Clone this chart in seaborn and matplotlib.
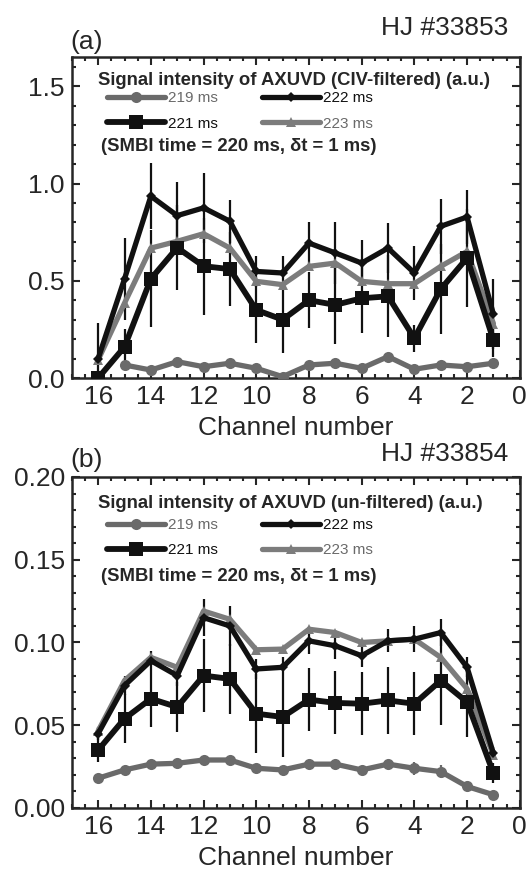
import numpy as np
import pandas as pd
import seaborn as sns
import matplotlib.pyplot as plt
from matplotlib.ticker import MultipleLocator, FormatStrFormatter

sns.set_style("ticks")
plt.rcParams['font.family'] = ['Liberation Sans', 'DejaVu Sans']

channels = np.arange(16, 0, -1)
times = ["219 ms", "221 ms", "222 ms", "223 ms"]

# (a) CIV-filtered, shot 33853
a_219 = [np.nan, 0.067, 0.041, 0.084, 0.058, 0.076, 0.050, 0.007, 0.067, 0.076, 0.050, 0.110, 0.045, 0.067, 0.058, 0.076]
a_221 = [0.00, 0.16, 0.51, 0.67, 0.575, 0.56, 0.35, 0.30, 0.40, 0.376, 0.41, 0.42, 0.205, 0.457, 0.617, 0.196]
a_222 = [0.10, 0.51, 0.935, 0.835, 0.875, 0.806, 0.548, 0.54, 0.694, 0.643, 0.591, 0.668, 0.54, 0.78, 0.828, 0.328]
a_223 = [0.093, 0.385, 0.668, 0.703, 0.742, 0.668, 0.497, 0.48, 0.574, 0.591, 0.497, 0.485, 0.485, 0.574, 0.651, 0.28]
a_err219 = [0.0] * 16
a_err221 = [0.0, 0.09, 0.25, 0.22, 0.25, 0.19, 0.17, 0.17, 0.144, 0.20, 0.18, 0.21, 0.07, 0.23, 0.25, 0.09]
a_err222 = [0.185, 0.21, 0.17, 0.175, 0.18, 0.11, 0.08, 0.085, 0.11, 0.16, 0.12, 0.13, 0.14, 0.14, 0.14, 0.18]

# (b) un-filtered, shot 33854
b_219 = [0.018, 0.023, 0.0265, 0.027, 0.029, 0.029, 0.024, 0.023, 0.0265, 0.0265, 0.023, 0.0265, 0.024, 0.022, 0.013, 0.008]
b_221 = [0.035, 0.054, 0.066, 0.061, 0.080, 0.078, 0.057, 0.055, 0.0655, 0.0635, 0.063, 0.065, 0.063, 0.077, 0.064, 0.021]
b_222 = [0.045, 0.074, 0.089, 0.080, 0.115, 0.110, 0.084, 0.085, 0.101, 0.098, 0.092, 0.101, 0.102, 0.106, 0.085, 0.033]
b_223 = [0.0466, 0.077, 0.091, 0.085, 0.119, 0.114, 0.0956, 0.096, 0.108, 0.106, 0.100, 0.101, 0.102, 0.091, 0.072, 0.032]
b_err219 = [0.002, 0.002, 0.002, 0.002, 0.002, 0.002, 0.002, 0.002, 0.002, 0.002, 0.002, 0.002, 0.004, 0.004, 0.003, 0.002]
b_err221 = [0.007, 0.015, 0.017, 0.015, 0.022, 0.021, 0.024, 0.024, 0.019, 0.019, 0.019, 0.020, 0.019, 0.027, 0.021, 0.006]
b_err222 = [0.004, 0.006, 0.006, 0.006, 0.011, 0.012, 0.006, 0.006, 0.008, 0.008, 0.007, 0.007, 0.008, 0.008, 0.006, 0.004]

grey1 = "#6a6a6a"
grey2 = "#7c7c7c"
black = "#111111"
styles = {
    "219 ms": dict(color=grey1, marker="o", markersize=8, lw=3.8),
    "221 ms": dict(color=black, marker="s", markersize=9.5, lw=4.2),
    "222 ms": dict(color=black, marker="D", markersize=5.5, lw=3.8),
    "223 ms": dict(color=grey2, marker="^", markersize=6.5, lw=3.8),
}


def draw_panel(ax, series, errs, ymax, ymaj, ymin, yfmt, title, tag, shot, dy=0, shot_dy=12):
    df = pd.DataFrame({"channel": channels})
    for t, vals in zip(times, series):
        df[t] = vals
    # error bars first so lines sit on top
    for t, e, c in zip(["219 ms", "221 ms", "222 ms"], errs, [grey1, black, black]):
        ax.errorbar(df["channel"], df[t], yerr=e, fmt="none", ecolor=c, elinewidth=1.6, capsize=0, zorder=2)
    for t in ["223 ms", "221 ms", "222 ms", "219 ms"]:
        st = styles[t]
        sns.lineplot(data=df, x="channel", y=t, ax=ax, color=st["color"], marker=st["marker"],
                     markersize=st["markersize"], markeredgecolor=st["color"], markeredgewidth=0,
                     linewidth=st["lw"], label=t, zorder=3)
    ax.set_xlim(17, 0)
    ax.set_ylim(0, ymax)
    ax.xaxis.set_major_locator(MultipleLocator(2))
    ax.xaxis.set_minor_locator(MultipleLocator(0.5))
    ax.yaxis.set_major_locator(MultipleLocator(ymaj))
    ax.yaxis.set_minor_locator(MultipleLocator(ymin))
    ax.yaxis.set_major_formatter(FormatStrFormatter(yfmt))
    ax.tick_params(which="both", direction="in", top=True, right=True, width=1.5, labelsize=19, pad=5)
    ax.tick_params(which="major", length=6)
    ax.tick_params(which="minor", length=3)
    for sp in ax.spines.values():
        sp.set_linewidth(1.8)
    ax.set_xlabel("Channel number", fontsize=19, labelpad=5)
    ax.set_ylabel("")

    # legend placed in pixels below the top-left corner of the axes
    h_px = ax.get_position().height * ax.figure.get_figheight() * ax.figure.dpi
    handles, labels = ax.get_legend_handles_labels()
    order = sorted(range(len(labels)), key=lambda i: labels[i])
    leg = ax.legend([handles[i] for i in order], [labels[i] for i in order], ncol=2,
                    loc="upper left", bbox_to_anchor=(0.078, 1 - (34 + dy * 1.39) / h_px), frameon=False,
                    fontsize=11, handlelength=3.8, handletextpad=0.2, columnspacing=2.9,
                    labelspacing=0.75, borderaxespad=0, borderpad=0)
    for txt in leg.get_texts():
        txt.set_color(grey1 if txt.get_text() in ("219 ms", "223 ms") else black)

    ax.annotate(title, xy=(0, 1), xycoords="axes fraction", xytext=(19, -17 - dy * 0.4),
                textcoords="offset points", fontsize=13.3, fontweight="bold", va="center", ha="left")
    ax.annotate("(SMBI time = 220 ms, \u03b4t = 1 ms)", xy=(0, 1), xycoords="axes fraction",
                xytext=(21, -64 - dy * 1.5), textcoords="offset points", fontsize=13.3, fontweight="bold",
                va="center", ha="left")
    ax.annotate(tag, xy=(0, 1), xycoords="axes fraction", xytext=(-1, 2 + dy * 0.3),
                textcoords="offset points", fontsize=19, va="bottom", ha="left")
    ax.annotate(shot, xy=(1, 1), xycoords="axes fraction", xytext=(-8, shot_dy),
                textcoords="offset points", fontsize=19, va="bottom", ha="right")


fig = plt.figure(figsize=(5.32, 8.72), dpi=100)
ax_a = fig.add_axes([0.135, 0.5665, 0.842, 0.368])
ax_b = fig.add_axes([0.135, 0.0734, 0.842, 0.3796])

draw_panel(ax_a, [a_219, a_221, a_222, a_223], [a_err219, a_err221, a_err222], 1.65, 0.5, 0.1, "%.1f",
           "Signal intensity of AXUVD (CIV-filtered) (a.u.)", "(a)", "HJ #33853")
draw_panel(ax_b, [b_219, b_221, b_222, b_223], [b_err219, b_err221, b_err222], 0.20, 0.05, 0.01, "%.2f",
           "Signal intensity of AXUVD (un-filtered) (a.u.)", "(b)", "HJ #33854", dy=5, shot_dy=8)

fig.savefig("out.png", dpi=100)
